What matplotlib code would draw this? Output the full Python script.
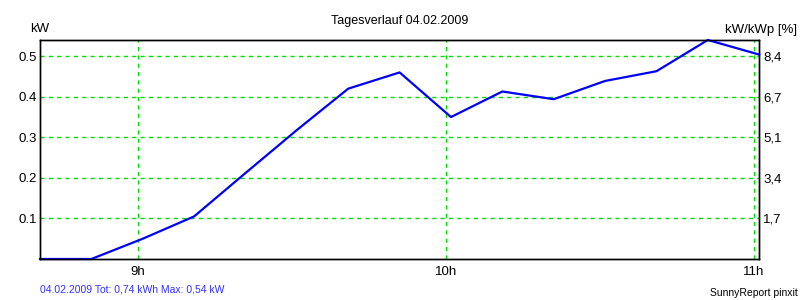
import matplotlib.pyplot as plt

plt.rcParams['font.family'] = ['Liberation Sans', 'DejaVu Sans']

# 10-minute readings, 04.02.2009
times = ['08:41', '08:51', '09:01', '09:11', '09:21', '09:31', '09:41', '09:51',
         '10:01', '10:11', '10:21', '10:31', '10:41', '10:51', '11:01']
power_kw = [0.0, 0.0, 0.05, 0.105, 0.212, 0.318, 0.42, 0.46,
            0.35, 0.413, 0.394, 0.439, 0.463, 0.54, 0.504]

x_ticks = [9, 10, 11]
x_labels = ['9h', '10h', '11h']
y_ticks = [0.1, 0.2, 0.3, 0.4, 0.5]
y_labels = ['0.1', '0.2', '0.3', '0.4', '0.5']
right_labels = ['1,7', '3,4', '5,1', '6,7', '8,4']

hours = [int(t[:2]) + int(t[3:]) / 60 for t in times]

fig = plt.figure(figsize=(8, 3), dpi=100)
ax = fig.add_axes([0.05, 0.1367, 0.899, 0.73])

grid_green = '#00e000'
ax.plot(hours, power_kw, color='#0000ff', lw=1.6, zorder=3, clip_on=False)

ax.set_xlim(hours[0], hours[-1])
ax.set_ylim(0, 0.54)
ax.set_xticks(x_ticks)
ax.set_xticklabels(x_labels)
ax.set_yticks(y_ticks)
ax.set_yticklabels(y_labels)
ax.tick_params(axis='y', length=0, labelsize=9.5, pad=2.5)
ax.tick_params(axis='x', length=0, labelsize=9.5, pad=5)
ax.grid(True, color=grid_green, ls=(0, (3, 3)), lw=1)

for s in ax.spines.values():
    s.set_color('black')
    s.set_linewidth(1)

ax2 = ax.twinx()
ax2.set_ylim(ax.get_ylim())
ax2.set_yticks(y_ticks)
ax2.set_yticklabels(right_labels)
ax2.tick_params(length=0, labelsize=9.5, pad=3)
for s in ax2.spines.values():
    s.set_linewidth(1)

fig.text(0.5, 0.93, 'Tagesverlauf 04.02.2009', ha='center', va='center', fontsize=9)
fig.text(0.038, 0.905, 'kW', ha='left', va='center', fontsize=9.5)
fig.text(0.997, 0.9, 'kW/kWp [%]', ha='right', va='center', fontsize=9.5)
fig.text(0.05, 0.035, '04.02.2009 Tot: 0,74 kWh Max: 0,54 kW', ha='left', va='center',
         fontsize=7.5, color='#3333ff')
fig.text(0.997, 0.025, 'SunnyReport pinxit', ha='right', va='center', fontsize=7.5)

fig.savefig('out.png', dpi=100)
